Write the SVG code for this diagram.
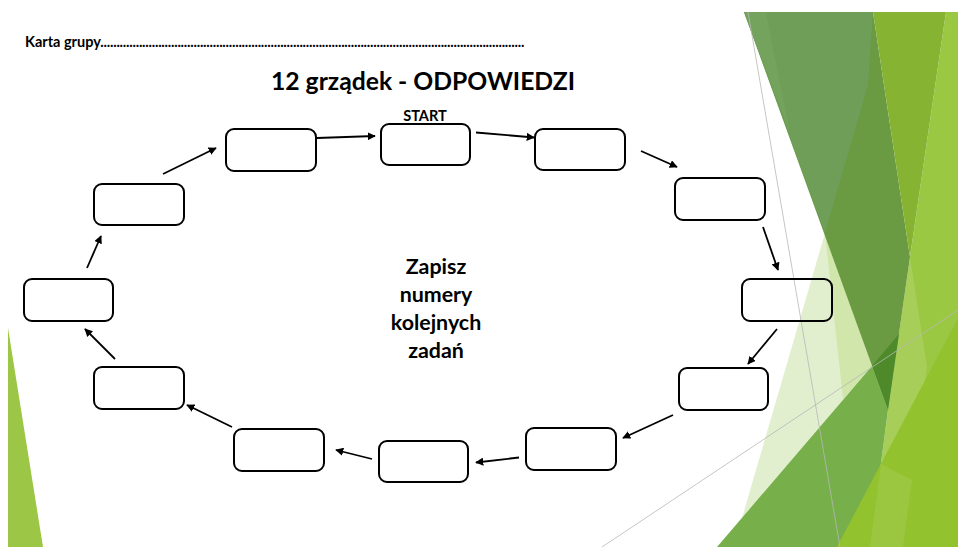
<svg xmlns="http://www.w3.org/2000/svg" width="958" height="547" viewBox="0 0 958 547">
  <defs>
    <marker id="head" viewBox="0 0 10 10" refX="9" refY="5" markerWidth="4.5" markerHeight="4.5" orient="auto" markerUnits="strokeWidth">
      <path d="M0,0 L10,5 L0,10 z" fill="#000"/>
    </marker>
    <style>
      .box { fill: none; stroke: #000; stroke-width: 2; }
      .link { fill: none; stroke: #000; stroke-width: 1.8; marker-end: url(#head); }
      .txt { font-family: Lato, "Open Sans", "Liberation Sans", sans-serif; font-weight: bold; fill: #000; }
      .thin { fill: none; stroke: #b8b8b8; stroke-width: 0.8; }
    </style>
  </defs>

  <rect width="958" height="547" fill="#fff"/>

  <!-- slide decoration: facet triangles -->
  <g id="decoration">
    <polygon points="8,328 8,547 43,547" fill="#9cc645"/>
    <!-- right light-green base -->
    <polygon points="946,12 958,12 958,547 870,547 888,410 910,257" fill="#9bc843"/>
    <polygon points="910,257 888,410 870,547 903,547 927,367" fill="#ffffff" opacity="0.12"/>
    <!-- pale facets -->
    <polygon points="825,233 872,366 742,518" fill="#e2efcf"/>
    <polygon points="825,233 872,366 843,399" fill="#d0e6aa"/>
    <!-- muted dark facet -->
    <polygon points="744,12 873,12 910,257 888,410" fill="#6a9a42"/>
    <polygon points="744,12 873,12 868,85 825,233" fill="#6e9e57"/>
    <polygon points="744,12 766,12 790,133" fill="#73a35c"/>
    <!-- olive facet -->
    <polygon points="873,12 946,12 910,257" fill="#86b332"/>
    <!-- lower facets -->
    <polygon points="717,547 872,366 888,410 870,547" fill="#77b04a"/>
    <polygon points="872,366 899,334 888,410" fill="#4e8a2a"/>
    <polygon points="837,547 958,318 958,547" fill="#93c22f"/>
    <polygon points="881,464 870,547 903,547 912,480" fill="#ffffff" opacity="0.08"/>
    <!-- hairlines -->
    <line class="thin" x1="748" y1="12" x2="840" y2="547"/>
    <line class="thin" x1="602" y1="547" x2="958" y2="310"/>
  </g>

  <!-- header texts -->
  <text class="txt" x="25" y="47" font-size="14.5"><tspan>Karta grupy</tspan><tspan textLength="424" lengthAdjust="spacing">....................................................................................................................................</tspan></text>
  <text class="txt" x="423" y="90" font-size="24.7" text-anchor="middle">12 grządek - ODPOWIEDZI</text>
  <text class="txt" x="425" y="121" font-size="14.6" text-anchor="middle">START</text>

  <!-- centre note -->
  <g id="note" class="txt" font-size="21.4" text-anchor="middle">
    <text x="436" y="273.5">Zapisz</text>
    <text x="436" y="302">numery</text>
    <text x="436" y="330">kolejnych</text>
    <text x="436" y="358">zadań</text>
  </g>

  <!-- answer boxes, clockwise from START -->
  <g id="box1"><rect class="box" x="381" y="124" width="89" height="41" rx="8"/></g>
  <g id="box2"><rect class="box" x="535" y="129" width="90" height="41" rx="8"/></g>
  <g id="box3"><rect class="box" x="675" y="178" width="90" height="42" rx="8"/></g>
  <g id="box4"><rect class="box" x="742" y="279" width="90" height="42" rx="8"/></g>
  <g id="box5"><rect class="box" x="679" y="368" width="89" height="42" rx="8"/></g>
  <g id="box6"><rect class="box" x="526" y="428" width="90" height="42" rx="8"/></g>
  <g id="box7"><rect class="box" x="379" y="441" width="89" height="41" rx="8"/></g>
  <g id="box8"><rect class="box" x="234" y="429" width="90" height="42" rx="8"/></g>
  <g id="box9"><rect class="box" x="94" y="367" width="90" height="42" rx="8"/></g>
  <g id="box10"><rect class="box" x="24" y="279" width="89" height="42" rx="8"/></g>
  <g id="box11"><rect class="box" x="94" y="184" width="90" height="41" rx="8"/></g>
  <g id="box12"><rect class="box" x="226" y="129" width="90" height="42" rx="8"/></g>

  <!-- connectors -->
  <g id="connectors">
    <line class="link" x1="476" y1="132.5" x2="534" y2="137.5"/>
    <line class="link" x1="641" y1="151" x2="677" y2="167"/>
    <line class="link" x1="763" y1="227" x2="778" y2="270"/>
    <line class="link" x1="777" y1="329" x2="748" y2="364"/>
    <line class="link" x1="673" y1="415" x2="623" y2="438"/>
    <line class="link" x1="519" y1="457.5" x2="476" y2="462.5"/>
    <line class="link" x1="372" y1="459" x2="336" y2="450"/>
    <line class="link" x1="232" y1="427" x2="187" y2="405"/>
    <line class="link" x1="115" y1="359" x2="85" y2="329"/>
    <line class="link" x1="87" y1="268" x2="101" y2="236"/>
    <line class="link" x1="163" y1="174" x2="216" y2="148"/>
    <line class="link" x1="317" y1="138" x2="375" y2="136"/>
  </g>
</svg>
